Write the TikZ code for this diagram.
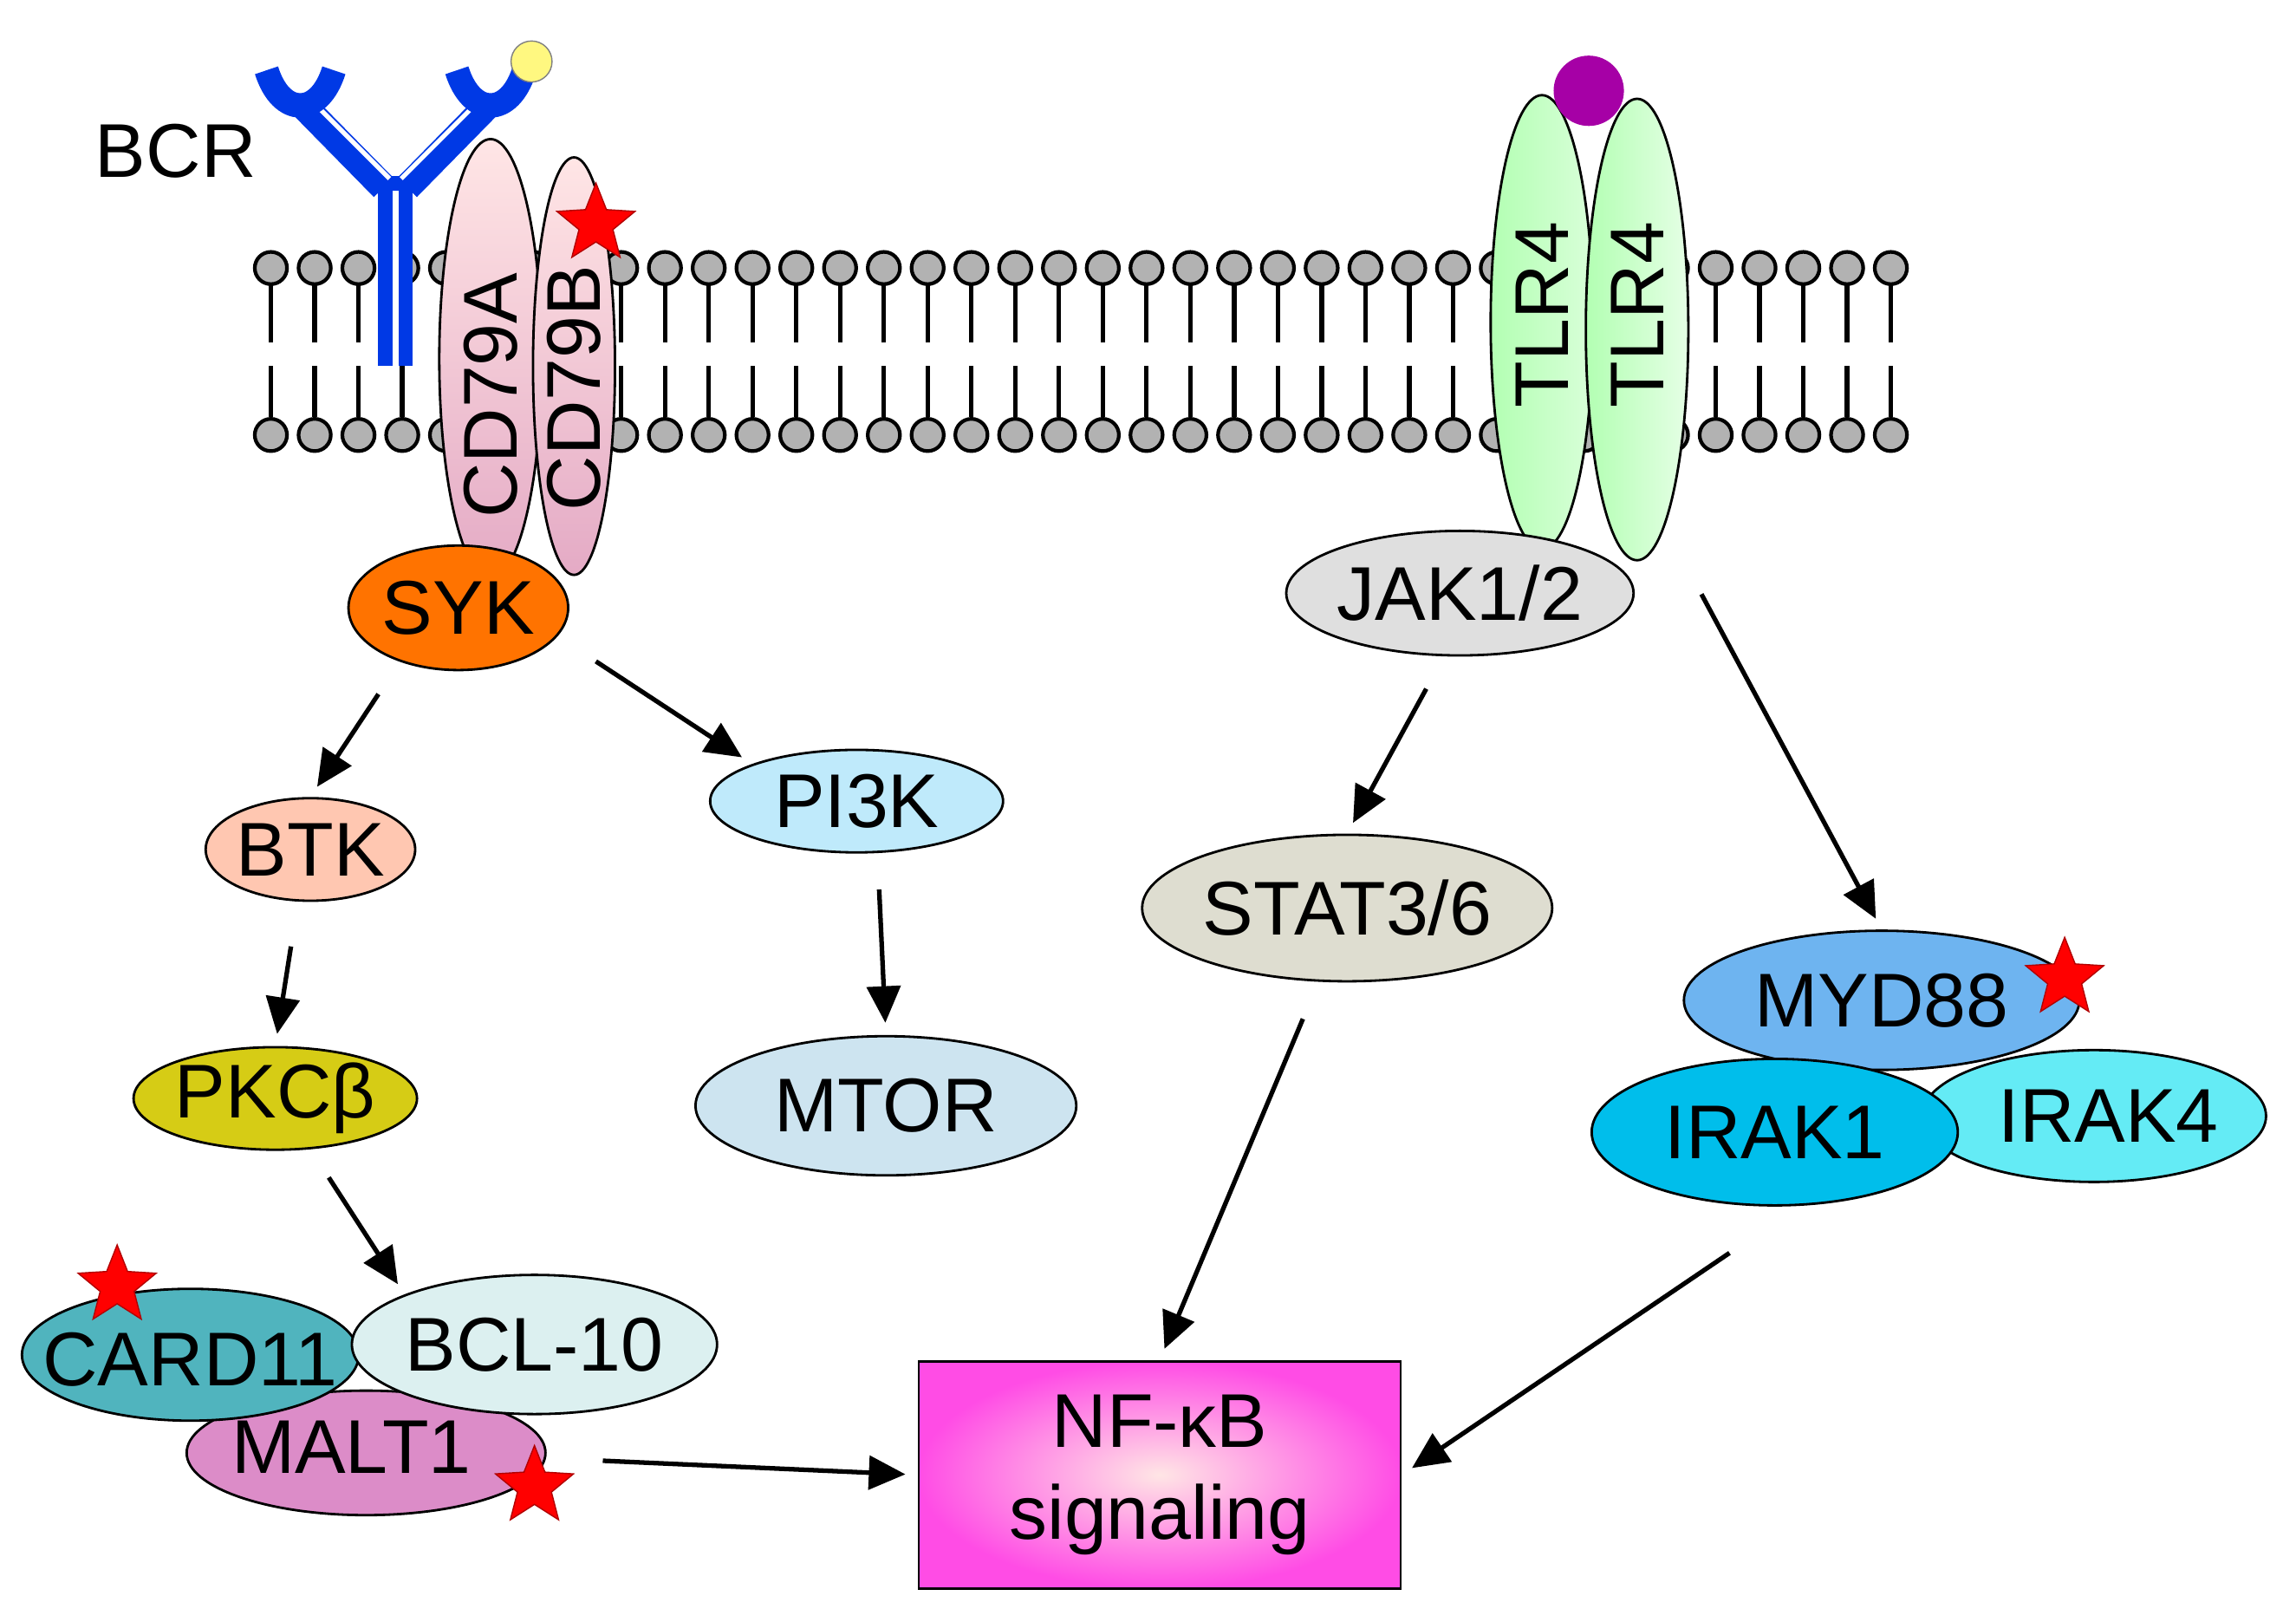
\documentclass[tikz,border=0pt]{standalone}
\usepackage{fontspec}
\setmainfont{Liberation Sans}
\usetikzlibrary{shapes.geometric,arrows.meta}
\def\P{*0.4807pt}
\definecolor{mtorc}{RGB}{205,228,240}
\definecolor{mydc}{RGB}{110,180,240}
\definecolor{irak1c}{RGB}{0,190,235}
\definecolor{irak4c}{RGB}{100,235,245}
\definecolor{cardc}{RGB}{80,180,190}
\definecolor{bclc}{RGB}{220,240,240}
\definecolor{maltc}{RGB}{220,140,200}
\begin{document}
\begin{tikzpicture}[x=0.016894cm,y=-0.016894cm,
 el/.style={ellipse,draw=black,line width=0.8pt,font=\fontsize{25}{28}\selectfont,inner sep=0pt},
 tx/.style={font=\fontsize{25}{28}\selectfont,inner sep=0pt},
 ar/.style={-{Triangle[length=12pt,width=11pt]},line width=1.5pt,shorten >=4pt,shorten <=4pt},
 st/.style={star,star points=5,star point ratio=2.3,fill=red,draw=red!70!black,minimum size=56\P,inner sep=0pt},
 head/.style={circle,fill=gray!60,draw=black,line width=1.2pt,minimum size=22\P,inner sep=0pt}]
\useasboundingbox (0,0) rectangle (1568,1107);
% membrane
\foreach \i in {0,...,37}{
 \pgfmathsetmacro\xx{185+\i*29.9}
 \draw[line width=1.5pt] (\xx,195)--(\xx,234) (\xx,250)--(\xx,285);
 \node[head] at (\xx,183) {};
 \node[head] at (\xx,297) {};
}
% BCR
\begin{scope}[line cap=butt]
\fill[blue!75!cyan!90!black] (258,120) rectangle (282,250);
\fill[white] (268,130) rectangle (272,250);
\draw[line width=9pt,blue!75!cyan!90!black] (262,128)--(205,70) (278,128)--(335,70);
\draw[line width=1.5pt,white] (266,122)--(210,66) (274,122)--(330,66);
\draw[line width=8pt,blue!75!cyan!90!black] (182,48) .. controls (192,80) and (218,80) .. (228,48);
\draw[line width=8pt,blue!75!cyan!90!black] (312,48) .. controls (322,80) and (348,80) .. (358,48);
\end{scope}
\node[circle,fill=yellow!50,draw=gray,minimum size=28\P,inner sep=0pt] (ag) at (363,42) {};
\node[tx] (bcr) at (120,103) {BCR};
% CD79
\node[el,top color=pink!40,bottom color=violet!30!pink!70,minimum width=70\P,minimum height=300\P] (cda) at (335,245) {};
\node[tx,rotate=90] at (335,270) {CD79A};
\node[el,top color=pink!40,bottom color=violet!30!pink!70,minimum width=56\P,minimum height=285\P] (cdb) at (392,250) {};
\node[tx,rotate=90] at (392,265) {CD79B};
\node[st] (s1) at (407,153) {};
% TLR4
\node[el,left color=green!30!white,right color=green!15!white,minimum width=70\P,minimum height=310\P] (t1) at (1053,220) {};
\node[tx,rotate=90] at (1053,215) {TLR4};
\node[el,left color=green!30!white,right color=green!10!white,minimum width=70\P,minimum height=315\P] (t2) at (1118,225) {};
\node[tx,rotate=90] at (1118,215) {TLR4};
\node[circle,fill=violet!70!magenta,minimum size=48\P,inner sep=0pt] (lps) at (1085,62) {};
% nodes
\node[el,fill=orange!90!red,minimum width=150\P,minimum height=85\P] (syk) at (313,415) {SYK};
\node[el,fill=gray!25,minimum width=215\P,minimum height=85\P] (jak) at (997,405) {JAK1/2};
\node[el,fill=orange!25!pink!70,minimum width=135\P,minimum height=70\P] (btk) at (212,580) {BTK};
\node[el,fill=cyan!25,minimum width=200\P,minimum height=70\P] (pi3k) at (585,547) {PI3K};
\node[el,fill=olive!20!gray!30,minimum width=280\P,minimum height=100\P] (stat) at (920,620) {STAT3/6};
\node[el,fill=mtorc,minimum width=260\P,minimum height=95\P] (mtor) at (605,755) {MTOR};
\node[el,fill=yellow!60!olive!90,minimum width=175\P,minimum height=70\P] (pkc) at (188,750) {PKCβ};
\node[el,fill=mydc,minimum width=270\P,minimum height=95\P] (myd) at (1285,683) {MYD88};
\node[st] (s2) at (1410,668) {};
\node[el,fill=irak4c,minimum width=235\P,minimum height=90\P] (irak4) at (1430,762) {};
\node[tx] at (1440,762) {IRAK4};
\node[el,fill=irak1c,minimum width=250\P,minimum height=100\P] (irak1) at (1212,773) {IRAK1};
\node[el,fill=maltc,minimum width=245\P,minimum height=85\P] (malt) at (250,992) {};
\node[tx] at (240,988) {MALT1};
\node[el,fill=cardc,minimum width=230\P,minimum height=90\P] (card) at (130,925) {};
\node[tx] at (130,928) {CARD11};
\node[el,fill=bclc,minimum width=245\P,minimum height=95\P] (bcl) at (365,918) {BCL-10};
\node[st] (s3) at (80,878) {};
\node[st] (s4) at (365,1015) {};
\node[draw=black,line width=0.8pt,inner color=pink!40,outer color=magenta!60!pink,minimum width=329\P,minimum height=155\P,font=\fontsize{25}{30}\selectfont,align=center] (nfkb) at (792,1007) {NF-κB\\signaling};
% arrows
\draw[ar] (syk) ++(-50,52) coordinate (a1) -- (btk.north);
\draw[ar] (syk) ++(87,32) coordinate (a2) -- (pi3k.north west);
\draw[ar] (btk) ++(-12,58) coordinate (b1) -- (pkc.north);
\draw[ar] (pi3k) ++(15,52) coordinate (b2) -- (mtor.north);
\draw[ar] (pkc) ++(32,47) coordinate (b3) -- (bcl.north west);
\draw[ar] (jak) ++(-19,58) coordinate (a3) -- (stat.north);
\draw[ar] (t2.south) ++(40,15) coordinate (a4) -- (myd.north);
\draw[ar] (stat) ++(-27,68) coordinate (a5) -- (nfkb.north);
\draw[ar] (irak1.south) ++(-24,27) coordinate (a6) -- (nfkb.east);
\draw[ar] (malt.east) ++(30,5) coordinate (a7) -- (nfkb.west);
\end{tikzpicture}
\end{document}
